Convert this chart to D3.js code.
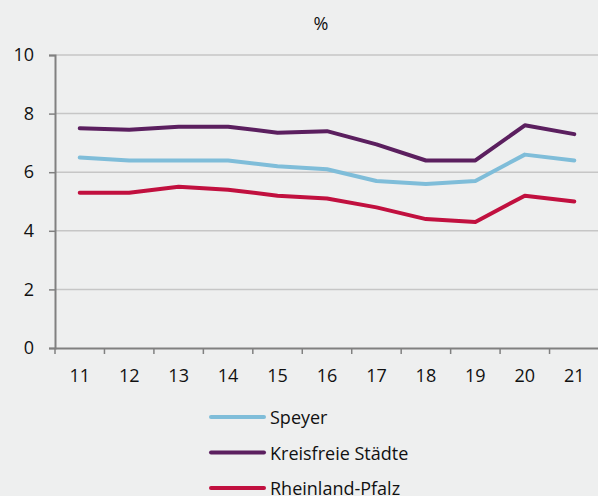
<!DOCTYPE html>
<html>
<head>
<meta charset="utf-8">
<script src="https://cdn.jsdelivr.net/npm/d3@7"></script>
<style>
  body { margin: 0; background: #eeefef; }
  svg { display: block; font-family: "Open Sans", "Noto Sans", sans-serif; }
</style>
</head>
<body>
<script>
const years = ["11", "12", "13", "14", "15", "16", "17", "18", "19", "20", "21"];
const speyer = [6.5, 6.4, 6.4, 6.4, 6.2, 6.1, 5.7, 5.6, 5.7, 6.6, 6.4];
const kreisfreie = [7.5, 7.45, 7.55, 7.55, 7.35, 7.4, 6.95, 6.4, 6.4, 7.6, 7.3];
const rlp = [5.3, 5.3, 5.5, 5.4, 5.2, 5.1, 4.8, 4.4, 4.3, 5.2, 5.0];
const yTicks = [0, 2, 4, 6, 8, 10];

const width = 598, height = 496;
const plotLeft = 55, plotRight = 599, plotTop = 55, plotBottom = 348;

const series = [
  { name: "Speyer", values: speyer, color: "#7fbdd9" },
  { name: "Kreisfreie Städte", values: kreisfreie, color: "#5b1f5f" },
  { name: "Rheinland-Pfalz", values: rlp, color: "#c1103f" }
];

const svg = d3.select("body").append("svg")
  .attr("width", width)
  .attr("height", height);

const x = d3.scaleBand().domain(years).range([plotLeft, plotRight]);
const y = d3.scaleLinear().domain([0, 10]).range([plotBottom, plotTop]);

// title
svg.append("text")
  .attr("x", 321).attr("y", 30)
  .attr("text-anchor", "middle")
  .attr("font-size", 18)
  .attr("fill", "#111")
  .text("%");

// gridlines
svg.append("g").selectAll("line")
  .data(yTicks.filter(d => d > 0))
  .enter().append("line")
  .attr("x1", plotLeft).attr("x2", plotRight)
  .attr("y1", d => y(d)).attr("y2", d => y(d))
  .attr("stroke", "#c6c6c6").attr("stroke-width", 1.5);

// y axis
const yAxis = svg.append("g")
  .attr("transform", "translate(" + plotLeft + ",0)")
  .call(d3.axisLeft(y).tickValues(yTicks).tickSize(6).tickPadding(15));
yAxis.select(".domain").attr("stroke", "#808080").attr("stroke-width", 2);
yAxis.selectAll(".tick line").attr("stroke", "#808080").attr("stroke-width", 1.5);
yAxis.selectAll(".tick text").attr("font-size", 18).attr("fill", "#111")
  .attr("font-family", "\"Open Sans\", sans-serif");

// x axis
const xAxis = svg.append("g")
  .attr("transform", "translate(0," + plotBottom + ")")
  .call(d3.axisBottom(x).tickSize(0).tickPadding(21));
xAxis.select(".domain").attr("stroke", "#808080").attr("stroke-width", 2);
xAxis.selectAll(".tick text").attr("font-size", 18).attr("fill", "#111")
  .attr("font-family", "\"Open Sans\", sans-serif");
// tick marks between categories
svg.append("g").selectAll("line")
  .data(years)
  .enter().append("line")
  .attr("x1", d => x(d)).attr("x2", d => x(d))
  .attr("y1", plotBottom).attr("y2", plotBottom + 6)
  .attr("stroke", "#808080").attr("stroke-width", 1.5);

// lines
const line = d3.line()
  .x((d, i) => x(years[i]) + x.bandwidth() / 2)
  .y(d => y(d));

svg.append("g").selectAll("path")
  .data(series)
  .enter().append("path")
  .attr("d", d => line(d.values))
  .attr("fill", "none")
  .attr("stroke", d => d.color)
  .attr("stroke-width", 4)
  .attr("stroke-linecap", "round")
  .attr("stroke-linejoin", "round");

// legend
const legend = svg.append("g").selectAll("g")
  .data(series)
  .enter().append("g")
  .attr("transform", (d, i) => "translate(211," + (417 + i * 35.5) + ")");
legend.append("line")
  .attr("x1", 0).attr("x2", 53)
  .attr("stroke", d => d.color)
  .attr("stroke-width", 4)
  .attr("stroke-linecap", "round");
legend.append("text")
  .attr("x", 59).attr("y", 7)
  .attr("font-size", 18)
  .attr("fill", "#111")
  .text(d => d.name);
</script>
</body>
</html>
